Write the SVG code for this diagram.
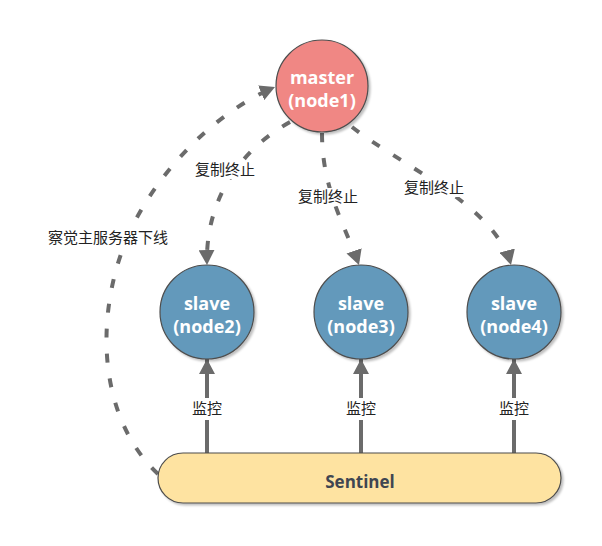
<svg xmlns="http://www.w3.org/2000/svg" width="602" height="546" viewBox="0 0 602 546">
<style>
.node{stroke:#4d4d4d;stroke-width:1.2}
.nt{font-family:"Open Sans","Noto Sans","DejaVu Sans",sans-serif;font-weight:bold;fill:#ffffff;text-anchor:middle;font-size:18px}
.st{font-family:"Open Sans","Noto Sans","DejaVu Sans",sans-serif;font-weight:bold;fill:#3f4651;text-anchor:middle;font-size:17px}
.lb{font-family:"Noto Sans CJK SC","Noto Sans",sans-serif;font-size:15px;fill:#222;text-anchor:middle}
.dash{fill:none;stroke:#6b6b6b;stroke-width:4;stroke-dasharray:9 16}
.solid{fill:none;stroke:#6b6b6b;stroke-width:4}
.bg{fill:#ffffff}
</style>
<defs>
<marker id="ah" viewBox="0 0 15 16" refX="15" refY="8" markerWidth="15" markerHeight="16" markerUnits="userSpaceOnUse" orient="auto">
<path d="M0,0 L15,8 L0,16 Z" fill="#6b6b6b"/>
</marker>
<filter id="sh" x="-20%" y="-20%" width="140%" height="140%">
<feDropShadow dx="2" dy="2" stdDeviation="1.2" flood-color="#000" flood-opacity="0.25"/>
</filter>
</defs>
<rect width="602" height="546" fill="#ffffff"/>
<g id="connectors">
<path class="dash" d="M290 122 C240 150 205 200 207 265" marker-end="url(#ah)"/>
<path class="dash" d="M322 133 C322 190 345 225 359 265" marker-end="url(#ah)"/>
<path class="dash" d="M352 127 C400 165 495 205 511 265" marker-end="url(#ah)"/>
<path class="dash" d="M158 474 C90 410 95 290 140 212 C170 160 220 110 275 87" marker-end="url(#ah)"/>
<path class="solid" d="M207 453 L207 359" marker-end="url(#ah)"/>
<path class="solid" d="M361 453 L361 359" marker-end="url(#ah)"/>
<path class="solid" d="M514 453 L514 359" marker-end="url(#ah)"/>
<g id="labels">
<rect class="bg" x="193" y="161" width="64" height="18"/>
<text class="lb" x="225" y="175">复制终止</text>
<rect class="bg" x="296" y="188" width="64" height="18"/>
<text class="lb" x="328" y="202">复制终止</text>
<rect class="bg" x="402" y="179" width="64" height="18"/>
<text class="lb" x="434" y="193">复制终止</text>
<rect class="bg" x="43" y="229" width="130" height="18"/>
<text class="lb" x="108" y="243">察觉主服务器下线</text>
<rect class="bg" x="190" y="398" width="34" height="22"/>
<text class="lb" x="207" y="414">监控</text>
<rect class="bg" x="344" y="398" width="34" height="22"/>
<text class="lb" x="361" y="414">监控</text>
<rect class="bg" x="497" y="398" width="34" height="22"/>
<text class="lb" x="514" y="414">监控</text>
</g>
</g>
<g id="master">
<circle class="node" cx="322" cy="86" r="46" fill="#f08784" filter="url(#sh)"/>
<text class="nt" x="322" y="84">master</text>
<text class="nt" x="322" y="107">(node1)</text>
</g>
<g id="node2">
<circle class="node" cx="207" cy="312" r="47" fill="#6399bb" filter="url(#sh)"/>
<text class="nt" x="207" y="310">slave</text>
<text class="nt" x="207" y="333">(node2)</text>
</g>
<g id="node3">
<circle class="node" cx="361" cy="312" r="47" fill="#6399bb" filter="url(#sh)"/>
<text class="nt" x="361" y="310">slave</text>
<text class="nt" x="361" y="333">(node3)</text>
</g>
<g id="node4">
<circle class="node" cx="514" cy="312" r="47" fill="#6399bb" filter="url(#sh)"/>
<text class="nt" x="514" y="310">slave</text>
<text class="nt" x="514" y="333">(node4)</text>
</g>
<g id="sentinel">
<rect class="node" x="158" y="453" width="403" height="50" rx="25" ry="25" fill="#fee3a1" filter="url(#sh)"/>
<text class="st" x="360" y="488">Sentinel</text>
</g>
</svg>
